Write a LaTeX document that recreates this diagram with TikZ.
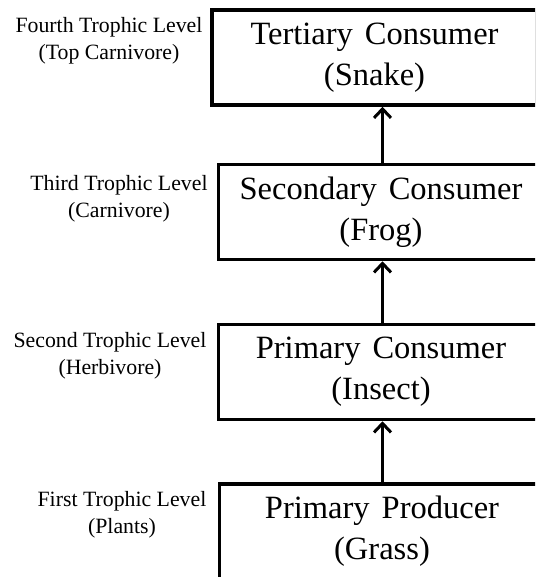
\documentclass[tikz,border=0pt]{standalone}
\usepackage{fontspec}
\setmainfont{Liberation Serif}
\usetikzlibrary{arrows.meta}
\newcommand\myboxfont{\fontsize{32.5}{41}\selectfont\spaceskip=12pt\relax}
\begin{document}
\begin{tikzpicture}[x=1pt,y=-1pt,
  levelbox/.style={draw=black, line width=3.5pt, rectangle, minimum width=325pt, minimum height=95pt, inner sep=0pt, align=center, font=\myboxfont},
  levellabel/.style={align=center, inner sep=0pt, font=\fontsize{21.8}{27}\selectfont},
  arr/.style={line width=3pt, -{Straight Barb[length=9pt,width=17pt,line width=3pt]}}]
\useasboundingbox (0,0) rectangle (535,577);
\clip (0,0) rectangle (535,577);
\node[levelbox] (b1) at (374.5,57.5) {Tertiary Consumer\\(Snake)};
\node[levelbox] (b2) at (381,212) {Secondary Consumer\\(Frog)};
\node[levelbox] (b3) at (381,372) {Primary Consumer\\(Insect)};
\node[levelbox] (b4) at (382,531.5) {Primary Producer\\(Grass)};
\node[levellabel] (l1) at (109,41) {Fourth Trophic Level\\(Top Carnivore)};
\node[levellabel] (l2) at (119,199) {Third Trophic Level\\(Carnivore)};
\node[levellabel] (l3) at (110,356) {Second Trophic Level\\(Herbivore)};
\node[levellabel] (l4) at (122,515) {First Trophic Level\\(Plants)};
\coordinate (ax) at (382.5,0);
\draw[arr] (b2.north -| ax) -- (b1.south -| ax);
\draw[arr] (b3.north -| ax) -- (b2.south -| ax);
\draw[arr] (b4.north -| ax) -- (b3.south -| ax);
\end{tikzpicture}
\end{document}
